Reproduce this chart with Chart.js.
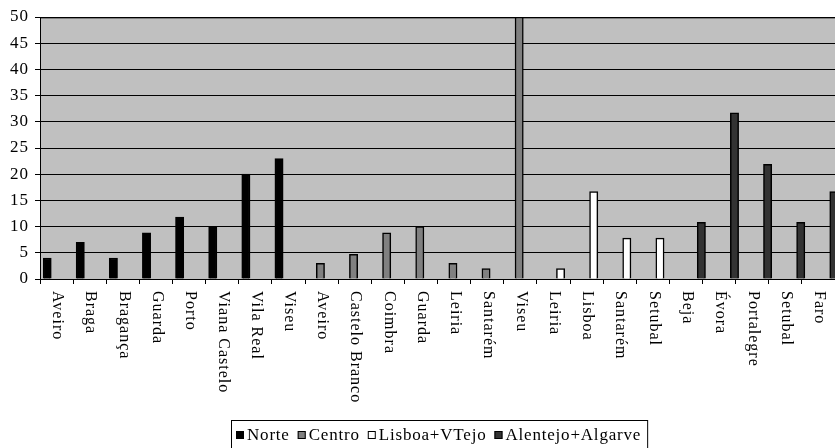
<!DOCTYPE html>
<html>
<head>
<meta charset="utf-8">
<script src="https://cdn.jsdelivr.net/npm/chart.js@4"></script>
<style>
  html, body { margin: 0; padding: 0; background: #fff; }
  #wrap { width: 835px; height: 448px; }
</style>
</head>
<body>
<div id="wrap"><canvas id="grafico" width="835" height="448"></canvas></div>
<script>
const categorias = [
  "Aveiro", "Braga", "Bragança", "Guarda", "Porto", "Viana Castelo", "Vila Real", "Viseu",
  "Aveiro", "Castelo Branco", "Coimbra", "Guarda", "Leiria", "Santarém", "Viseu",
  "Leiria", "Lisboa", "Santarém", "Setubal",
  "Beja", "Évora", "Portalegre", "Setubal", "Faro",
];

const norte = [4, 7, 4, 8.8, 11.8, 10, 20, 23,
  null, null, null, null, null, null, null,
  null, null, null, null,
  null, null, null, null, null];

const centro = [null, null, null, null, null, null, null, null,
  3, 4.7, 8.8, 10, 3, 2, 50,
  null, null, null, null,
  null, null, null, null, null];

const lisboa = [null, null, null, null, null, null, null, null,
  null, null, null, null, null, null, null,
  2, 16.7, 7.8, 7.8,
  null, null, null, null, null];

const alentejo = [null, null, null, null, null, null, null, null,
  null, null, null, null, null, null, null,
  null, null, null, null,
  10.8, 31.7, 21.9, 10.8, 16.7];

const ticksY = [0, 5, 10, 15, 20, 25, 30, 35, 40, 45, 50];

const FONTE = "Liberation Serif";

// fundo, etiquetas rodadas e legenda com caixa
const extras = {
  id: "extras",
  beforeDraw(chart) {
    const c = chart.ctx;
    const a = chart.chartArea;
    c.letterSpacing = "1px";
    c.save();
    c.fillStyle = "#ffffff";
    c.fillRect(0, 0, chart.width, chart.height);
    c.fillStyle = "#c0c0c0";
    c.fillRect(a.left, a.top, a.right - a.left, a.bottom - a.top);
    c.fillStyle = "#808080";
    c.fillRect(a.left, a.top, a.right - a.left, 2);
    c.restore();
  },
  beforeDatasetsDraw(chart) {
    chart.ctx.save();
    chart.ctx.translate(3, 0);
  },
  afterDatasetsDraw(chart) {
    chart.ctx.restore();
  },
  afterDraw(chart) {
    const c = chart.ctx;
    const x = chart.scales.x;
    // etiquetas do eixo x, a ler de cima para baixo
    c.save();
    c.fillStyle = "#000";
    c.font = "16px '" + FONTE + "'";
    c.textAlign = "left";
    c.textBaseline = "middle";
    categorias.forEach((lab, i) => {
      const px = x.getPixelForTick(i);
      c.save();
      c.translate(px + 1, 291);
      c.rotate(Math.PI / 2);
      c.fillText(lab, 0, 0);
      c.restore();
    });
    c.restore();

    // legenda
    c.save();
    c.letterSpacing = "0.8px";
    c.font = "17px '" + FONTE + "'";
    c.textBaseline = "alphabetic";
    let px = 236;
    const base = 440;
    chart.data.datasets.forEach((ds) => {
      c.fillStyle = ds.backgroundColor;
      c.fillRect(px, base - 9, 8, 8);
      c.strokeStyle = "#000";
      c.lineWidth = 1;
      c.strokeRect(px + 0.5, base - 8.5, 7, 7);
      px += 11;
      c.fillStyle = "#000";
      c.fillText(ds.label, px, base);
      px += c.measureText(ds.label).width + 8;
    });
    c.strokeStyle = "#000";
    c.lineWidth = 1;
    c.strokeRect(231.5, 420.5, px - 231 - 2, 40);
    c.restore();
  },
};

new Chart(document.getElementById("grafico"), {
  type: "bar",
  data: {
    labels: categorias,
    datasets: [
      { label: "Norte", data: norte, backgroundColor: "#000000" },
      { label: "Centro", data: centro, backgroundColor: "#808080" },
      { label: "Lisboa+VTejo", data: lisboa, backgroundColor: "#ffffff" },
      { label: "Alentejo+Algarve", data: alentejo, backgroundColor: "#333333" },
    ],
  },
  options: {
    responsive: false,
    animation: false,
    devicePixelRatio: 1,
    layout: { padding: { top: 17, right: 0, left: 0, bottom: 0 } },
    datasets: {
      bar: {
        categoryPercentage: 1,
        barPercentage: 1,
        borderColor: "#000000",
        borderWidth: 1.5,
        borderSkipped: "start",
      },
    },
    plugins: {
      legend: { display: false },
      tooltip: { enabled: false },
    },
    scales: {
      x: {
        offset: true,
        grid: {
          offset: true,
          drawOnChartArea: false,
          drawTicks: true,
          tickLength: 5,
          color: "#000",
        },
        border: { color: "#000", width: 1 },
        ticks: { display: false },
        afterFit: (s) => { s.height = 169; },
      },
      y: {
        min: 0,
        max: 50,
        afterBuildTicks: (s) => { s.ticks = ticksY.map((v) => ({ value: v })); },
        grid: { color: "#000", lineWidth: 1, tickLength: 5 },
        border: { color: "#000", width: 1 },
        ticks: {
          color: "#000",
          padding: 6,
          font: { family: FONTE, size: 17 },
        },
        afterFit: (s) => { s.width = 40; },
      },
    },
  },
  plugins: [extras],
});
</script>
</body>
</html>
